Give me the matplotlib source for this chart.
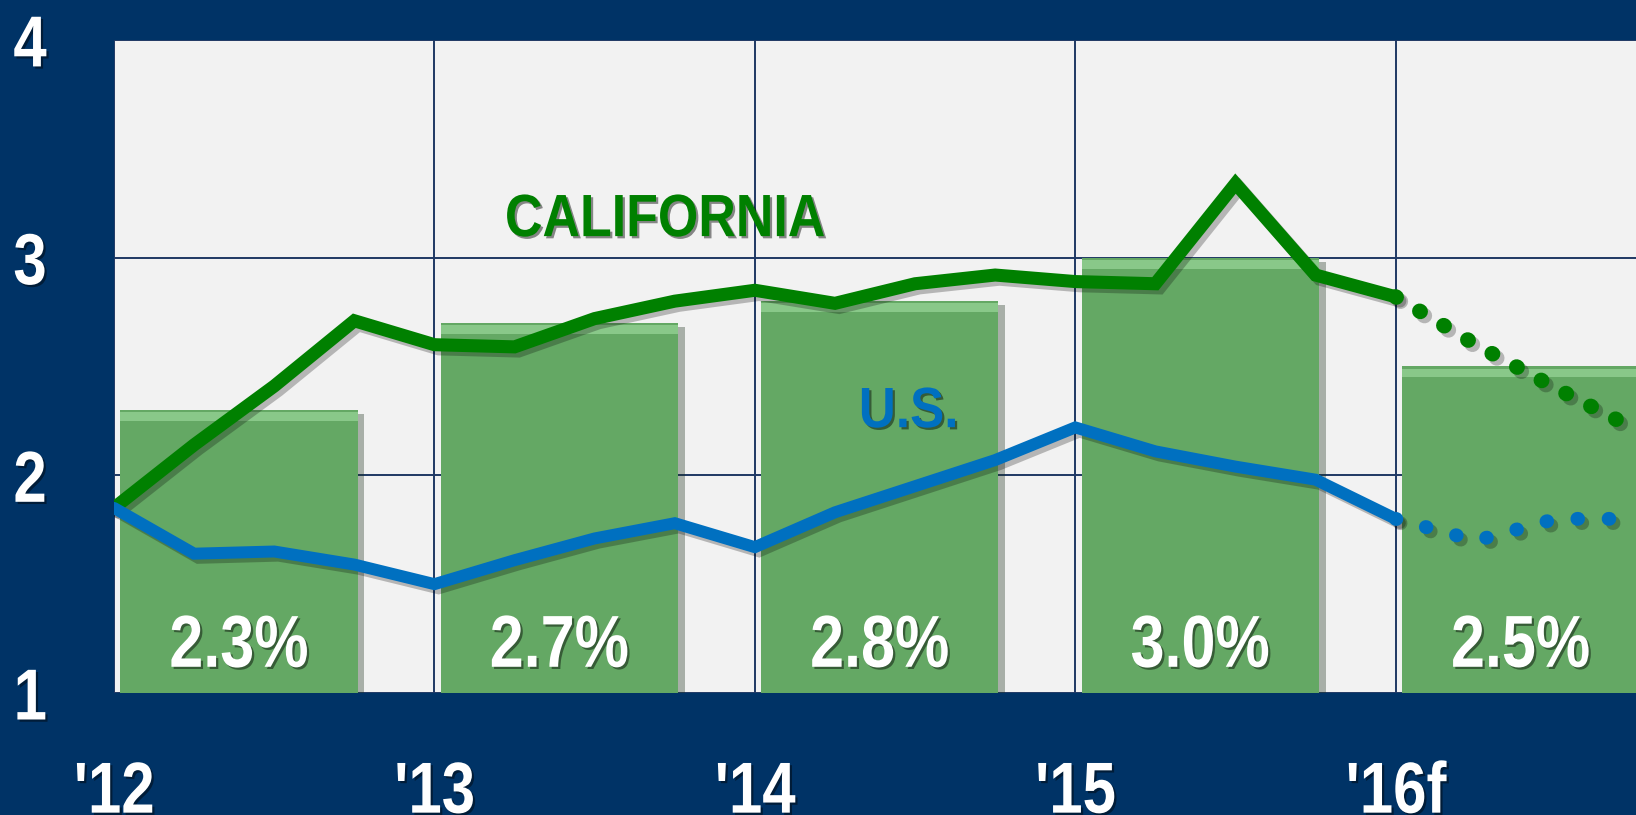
import matplotlib
matplotlib.use('Agg')
from matplotlib import pyplot as plt
import matplotlib.patheffects as pe
from matplotlib.transforms import Affine2D

# data (x in years since 2012, quarterly)
years = ["'12", "'13", "'14", "'15", "'16f"]
bar_values = [2.3, 2.7, 2.8, 3.0, 2.5]
bar_labels = ['2.3%', '2.7%', '2.8%', '3.0%', '2.5%']

quarters = [i / 4 for i in range(17)]
california = [1.85, 2.14, 2.41, 2.71, 2.60, 2.59, 2.72, 2.80, 2.85,
              2.79, 2.88, 2.92, 2.89, 2.88, 3.34, 2.92, 2.82]
us = [1.85, 1.64, 1.65, 1.59, 1.50, 1.61, 1.71, 1.78, 1.67,
      1.83, 1.95, 2.07, 2.22, 2.11, 2.04, 1.98, 1.80]

fc_quarters = [4.0, 4.25, 4.5, 4.75, 5.0]
california_fc = [2.82, 2.60, 2.40, 2.21, 2.02]
us_fc = [1.80, 1.70, 1.80, 1.80, 1.80]

navy = '#003366'
green = '#008000'
blue = '#0070c0'
bar_green = '#64a864'
plt.rcParams['font.family'] = ['Liberation Sans', 'DejaVu Sans']


class Narrow(pe.AbstractPathEffect):
    """squeeze text horizontally (no narrow font here) and drop a shadow"""
    def __init__(self, sx=0.83, shadow=True):
        super().__init__()
        self.sx = sx
        self.shadow = shadow

    def draw_path(self, renderer, gc, tpath, affine, rgbFace=None):
        ext = tpath.get_extents(affine)
        cx = (ext.x0 + ext.x1) / 2
        t = affine + Affine2D().translate(-cx, 0).scale(self.sx, 1).translate(cx, 0)
        if self.shadow:
            d = renderer.points_to_pixels(1.6)
            gc0 = renderer.new_gc()
            gc0.copy_properties(gc)
            gc0.set_linewidth(0)
            gc0.set_alpha(0.45)
            renderer.draw_path(gc0, tpath, t + Affine2D().translate(d, -d), (0, 0, 0))
            gc0.restore()
        renderer.draw_path(gc, tpath, t, rgbFace)


fig = plt.figure(figsize=(16.36, 8.15), dpi=100, facecolor=navy)
ax = fig.add_axes([0.0697, 0.1497, 0.9303, 0.8013])
ax.set_facecolor('#f2f2f2')

line_shadow = [pe.SimpleLineShadow(offset=(3, -3), alpha=0.25), pe.Normal()]

# bars
bar_x = [i + 0.02 for i in range(len(bar_values))]
ax.bar(bar_x, [v - 1 for v in bar_values], bottom=1, width=0.74,
       align='edge', color=bar_green, zorder=2,
       path_effects=[pe.withSimplePatchShadow(offset=(5, -3), alpha=0.35)])
# light bevel on top of each bar
ax.bar(bar_x, [0.04] * len(bar_values), bottom=[v - 0.05 for v in bar_values],
       width=0.74, align='edge', color='#93d193', alpha=0.8, zorder=2.1, linewidth=0)

for x, lab in zip(bar_x, bar_labels):
    ax.text(x + 0.37, 1.21, lab, ha='center', va='center', color='white',
            fontsize=53, fontweight='bold', zorder=5, path_effects=[Narrow(0.83)])

# lines
ax.plot(quarters, california, color=green, lw=9.4, solid_capstyle='round',
        solid_joinstyle='miter', zorder=4, path_effects=line_shadow)
ax.plot(quarters, us, color=blue, lw=8.6, solid_capstyle='round',
        solid_joinstyle='miter', zorder=4, path_effects=line_shadow)
ax.plot(fc_quarters, california_fc, color=green, lw=11, linestyle=(0, (0.05, 1.78)),
        dash_capstyle='round', zorder=4, path_effects=line_shadow)
ax.plot(fc_quarters, us_fc, color=blue, lw=10, linestyle=(0, (0.05, 2.2)),
        dash_capstyle='round', zorder=4, path_effects=line_shadow)

ax.text(1.72, 3.17, 'CALIFORNIA', color=green, fontsize=43, fontweight='bold',
        ha='center', va='center', zorder=5, path_effects=[Narrow(0.87)])
ax.text(2.48, 2.29, 'U.S.', color=blue, fontsize=41, fontweight='bold',
        ha='center', va='center', zorder=5, path_effects=[Narrow(0.9)])

# axes
ax.set_xlim(0, 4.75)
ax.set_ylim(1, 4)
ax.set_xticks(range(5))
ax.set_xticklabels(years)
ax.set_yticks([1, 2, 3, 4])
ax.set_yticklabels(['1', '2', '3', '4'])
ax.grid(True, color='#1f3864', lw=1.4, zorder=1)
ax.set_axisbelow(True)
for s in ax.spines.values():
    s.set_visible(False)
ax.tick_params(axis='both', length=0, colors='white', labelsize=52)
ax.tick_params(axis='x', pad=48)
ax.tick_params(axis='y', pad=46)
for lab in ax.get_xticklabels() + ax.get_yticklabels():
    lab.set_fontweight('bold')
    lab.set_path_effects([Narrow(0.83)])

plt.savefig('out.png', dpi=100, facecolor=navy)
